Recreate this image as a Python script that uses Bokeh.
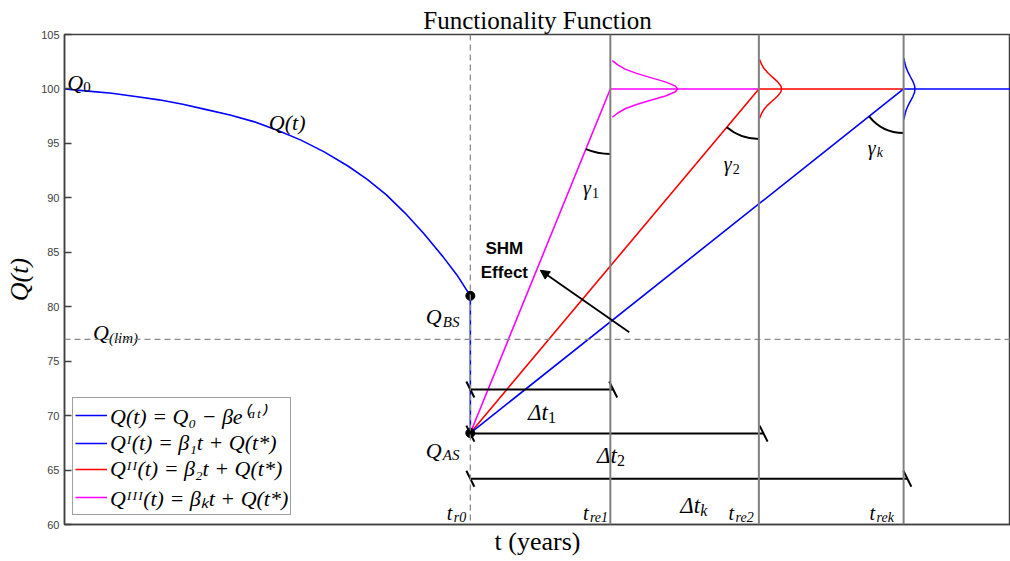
import math
from bokeh.plotting import figure
from bokeh.models import Span, Arrow, NormalHead, Legend, LegendItem, Range1d, FixedTicker
from bokeh.core.properties import value
from bokeh.embed import file_html
from bokeh.resources import INLINE

# ---------------- data ----------------
t_curve = [0.0, 0.25, 0.5, 0.75, 1.0, 1.25, 1.5, 1.75, 2.0, 2.25, 2.5, 2.75, 3.0, 3.2, 3.4,
           3.6, 3.8, 4.0, 4.15, 4.29]
q_curve = [100.0, 99.8, 99.6, 99.3, 99.0, 98.6, 98.1, 97.6, 97.0, 96.2, 95.3, 94.2, 92.9, 91.7, 90.3,
           88.6, 86.7, 84.6, 82.9, 81.0]
t_r0 = 4.29
q_bs = 81.0
q_as = 68.4
q_lim = 77.0
q_full = 100.0
t_end = 10.0
t_re = [5.77, 7.34, 8.87]                    # t_re1, t_re2, t_rek
rec_colors = ["#ff00ff", "#ff0000", "#0000ff"]
bell_half = [2.6, 2.7, 2.8]                  # half height of each bell (Q units)
bell_amp = [0.71, 0.24, 0.12]                # horizontal reach of each bell (t units)
bell_rel_y = [-1.0, -0.85, -0.7, -0.55, -0.4, -0.25, -0.1, 0.0, 0.1, 0.25, 0.4, 0.55, 0.7, 0.85, 1.0]
bell_rel_w = [0.03, 0.11, 0.22, 0.39, 0.6, 0.82, 0.97, 1.0, 0.97, 0.82, 0.6, 0.39, 0.22, 0.11, 0.03]
dt_y = [72.4, 68.35, 64.2]
dt_end = [5.80, 7.39, 8.91]
gamma_radius_px = [65, 50, 44]
y_ticks = [60, 65, 70, 75, 80, 85, 90, 95, 100, 105]

legend_labels = [
    "Q(t) = Q\u2080 \u2212 \u03b2e\u207d\u1d45\u1d57\u207e",
    "Q\u1d35(t) = \u03b2\u2081t + Q(t*)",
    "Q\u1d35\u1d35(t) = \u03b2\u2082t + Q(t*)",
    "Q\u1d35\u1d35\u1d35(t) = \u03b2\u2096t + Q(t*)",
]

# math-like labels: x, y, base, subscript, base font size (px), subscript x shift (px)
lab_x = [0.03, 2.16, 0.30, 3.82, 3.82, 5.48, 6.97, 8.49, 4.90, 5.63, 6.51, 4.04, 5.48, 7.02, 8.51]
lab_y = [100.6, 96.9, 77.6, 79.1, 66.8, 90.86, 93.15, 94.6, 70.3, 66.34, 61.75, 61.1, 61.1, 61.1, 61.1]
lab_base = ["Q", "Q(t)", "Q", "Q", "Q", "\u03b3", "\u03b3", "\u03b3", "\u0394t", "\u0394t", "\u0394t", "t", "t", "t", "t"]
lab_sub = ["0", "", "(lim)", "BS", "AS", "1", "2", "k", "1", "2", "k", "r0", "re1", "re2", "rek"]
lab_size = [22, 22, 22, 22, 22, 20, 20, 20, 23, 23, 23, 20, 20, 20, 20]
lab_subdx = [16, 0, 16, 17, 17, 9, 9, 9, 20, 20, 20, 7, 7, 7, 7]

# ---------------- figure ----------------
W, H = 1010, 561
ML, MR, MT, MB = 64, 0, 34, 37
x_range = Range1d(0, t_end)
y_range = Range1d(60, 105)
p = figure(width=W, height=H, x_range=x_range, y_range=y_range,
           output_backend="svg", toolbar_location=None,
           min_border_left=ML, min_border_right=MR, min_border_top=MT, min_border_bottom=MB,
           background_fill_color="white", border_fill_color="white")
p.grid.visible = False
p.outline_line_color = "#404040"
p.outline_line_width = 1.5

p.title.text = "Functionality Function"
p.title.align = "center"
p.title.text_font = "Liberation Serif"
p.title.text_font_style = "normal"
p.title.text_font_size = "25px"
p.title.text_color = "black"
p.title.standoff = 2
p.title.offset = 0

px_x = (W - ML - MR) / (t_end - 0.0)
px_y = (H - MT - MB) / (105 - 60)

# axes
p.yaxis.ticker = FixedTicker(ticks=y_ticks)
p.yaxis.major_tick_in = 7
p.yaxis.major_tick_out = 0
p.yaxis.minor_tick_line_color = None
p.yaxis.major_label_text_font = "Liberation Sans"
p.yaxis.major_label_text_font_size = "11px"
p.yaxis.major_label_text_color = "#404040"
p.yaxis.major_label_standoff = 5
p.yaxis.axis_line_color = "#404040"
p.yaxis.axis_line_width = 1.5
p.yaxis.major_tick_line_color = "#404040"
p.yaxis.major_tick_line_width = 1.5
p.yaxis.axis_label = "Q(t)"
p.yaxis.axis_label_text_font = "Liberation Serif"
p.yaxis.axis_label_text_font_style = "italic"
p.yaxis.axis_label_text_font_size = "26px"
p.yaxis.axis_label_text_color = "black"
p.yaxis.axis_label_standoff = 4

p.xaxis.ticker = FixedTicker(ticks=[])
p.xaxis.major_tick_line_color = None
p.xaxis.minor_tick_line_color = None
p.xaxis.major_label_text_font_size = "0px"
p.xaxis.axis_line_color = "#404040"
p.xaxis.axis_line_width = 1.5
p.xaxis.axis_label = "t (years)"
p.xaxis.axis_label_text_font = "Liberation Serif"
p.xaxis.axis_label_text_font_style = "normal"
p.xaxis.axis_label_text_font_size = "26px"
p.xaxis.axis_label_text_color = "black"
p.xaxis.axis_label_standoff = 2

# reference lines
p.add_layout(Span(location=q_lim, dimension="width", line_color="#8c8c8c",
                  line_width=1.3, line_dash="6 4"))
p.add_layout(Span(location=t_r0, dimension="height", line_color="#8c8c8c",
                  line_width=1.3, line_dash="6 4"))
for tr in t_re:
    p.add_layout(Span(location=tr, dimension="height", line_color="#808080", line_width=2))

# degradation curve
r_curve = p.line(t_curve, q_curve, line_color="#0000ff", line_width=1.6)
p.line([t_r0, t_r0], [q_bs, q_as], line_color="#0000ff", line_width=1.6)

# recovery lines
rec_renderers = []
for i, tr in enumerate(t_re):
    nxt = t_re[i + 1] if i + 1 < len(t_re) else t_end
    r = p.line([t_r0, tr, nxt], [q_as, q_full, q_full], line_color=rec_colors[i], line_width=1.6)
    rec_renderers.append(r)

# bells
for i, tr in enumerate(t_re):
    bx = [tr + bell_amp[i] * w for w in bell_rel_w]
    by = [q_full + bell_half[i] * ry for ry in bell_rel_y]
    p.line(bx, by, line_color=rec_colors[i], line_width=1.5)

# points Q_BS, Q_AS
p.scatter([t_r0, t_r0], [q_bs, q_as], size=9, fill_color="black", line_color="black")

# gamma arcs
for i, tr in enumerate(t_re):
    ang = math.atan2((q_as - q_full) * px_y, (t_r0 - tr) * px_x)
    p.arc(x=[tr], y=[q_full], radius=gamma_radius_px[i], radius_units="screen",
          start_angle=ang, end_angle=-math.pi / 2, direction="anticlock",
          line_color="black", line_width=2)

# delta-t bars
tick_dx = 4 / px_x
tick_dy = 8 / px_y
for yy, xe in zip(dt_y, dt_end):
    p.segment(x0=[t_r0], y0=[yy], x1=[xe], y1=[yy], line_color="black", line_width=2)
    p.segment(x0=[t_r0 - tick_dx, xe - tick_dx], y0=[yy + tick_dy, yy + tick_dy],
              x1=[t_r0 + tick_dx, xe + tick_dx], y1=[yy - tick_dy, yy - tick_dy],
              line_color="black", line_width=2)

# SHM effect arrow + text
p.add_layout(Arrow(end=NormalHead(size=9, fill_color="black", line_color="black"),
                   x_start=5.97, y_start=77.66, x_end=5.03, y_end=83.35,
                   line_color="black", line_width=1.8))
p.text(x=[4.65, 4.65], y=[85.35, 83.15], text=["SHM", "Effect"],
       text_font=value("Liberation Sans"), text_font_style="bold", text_font_size="17px",
       text_align="center", text_baseline="alphabetic", text_color="black")

# math labels
for x, y, b, s, fs, sdx in zip(lab_x, lab_y, lab_base, lab_sub, lab_size, lab_subdx):
    p.text(x=[x], y=[y], text=[b], text_font=value("Liberation Serif"),
           text_font_style="italic", text_font_size=f"{fs}px",
           text_align="left", text_baseline="alphabetic", text_color="black")
    if s:
        style = "normal" if s.isdigit() else "italic"
        p.text(x=[x], y=[y], text=[s], x_offset=sdx, y_offset=5,
               text_font=value("Liberation Serif"), text_font_style=style,
               text_font_size=f"{int(fs * 0.7)}px",
               text_align="left", text_baseline="alphabetic", text_color="black")

# legend
items = [LegendItem(label=legend_labels[0], renderers=[r_curve]),
         LegendItem(label=legend_labels[1], renderers=[rec_renderers[2]]),
         LegendItem(label=legend_labels[2], renderers=[rec_renderers[1]]),
         LegendItem(label=legend_labels[3], renderers=[rec_renderers[0]])]
legend = Legend(items=items, location=(8, 9), orientation="vertical",
                label_text_font="Liberation Serif", label_text_font_style="italic",
                label_text_font_size="22px", label_text_color="black",
                glyph_width=32, glyph_height=20, label_standoff=3,
                padding=2, spacing=0, margin=0, label_height=24,
                border_line_color="#404040", border_line_width=1.5,
                background_fill_color="white", background_fill_alpha=1.0)
p.add_layout(legend, "center")

open("out.html", "w").write(file_html(p, INLINE))
